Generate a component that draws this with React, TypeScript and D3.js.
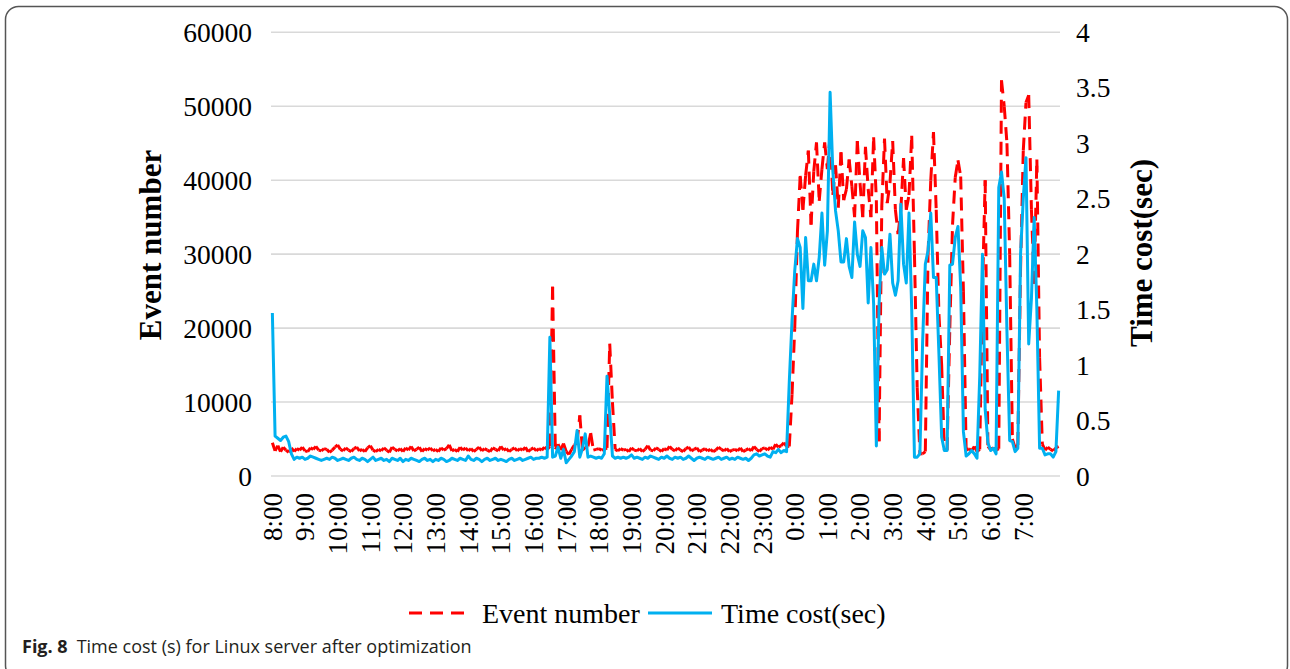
import React from "react";
import * as d3 from "d3";

const timeLabels = [
  "8:00", "9:00", "10:00", "11:00", "12:00", "13:00", "14:00", "15:00",
  "16:00", "17:00", "18:00", "19:00", "20:00", "21:00", "22:00", "23:00",
  "0:00", "1:00", "2:00", "3:00", "4:00", "5:00", "6:00", "7:00",
];

const leftTicks = [0, 10000, 20000, 30000, 40000, 50000, 60000];
const rightTicks = [0, 0.5, 1, 1.5, 2, 2.5, 3, 3.5, 4];

// Event number (primary axis), one sample per ~5 minutes from 8:00
const eventNumber = [
  4500, 3400, 4100, 3300, 3900, 3500, 3200, 3800, 3300, 3700,
  3500, 3900, 3400, 3300, 3800, 3600, 4000, 3500, 3400, 3700,
  3600, 3200, 3500, 3900, 4200, 3600, 3400, 3800, 3500, 3300,
  3700, 3900, 3400, 3600, 3300, 3800, 4100, 3500, 3300, 3600,
  3400, 3800, 3500, 3200, 3900, 3600, 3400, 3700, 3300, 3800,
  3500, 4000, 3400, 3600, 3900, 3300, 3700, 3500, 3800, 3400,
  3600, 3300, 3800, 3500, 3700, 4200, 3400, 3600, 3300, 3900,
  3500, 3800, 3400, 3700, 3300, 3600, 3900, 3400, 3700, 3500,
  3300, 3800, 3600, 3400, 4000, 3500, 3700, 3300, 3600, 3800,
  3400, 3700, 3500, 3900, 3300, 3600, 3800, 3400, 3700, 3500,
  3900, 3600, 4000, 25600, 3600, 4300, 3500, 4400, 3300, 2900,
  3600, 4200, 4500, 8200, 3500, 3900, 4000, 5800, 3500, 3600,
  3700, 3500, 3600, 3800, 17900, 10000, 3600, 3400, 3700, 3500,
  3600, 3300, 3800, 3500, 3400, 3700, 3300, 3600, 4100, 3500,
  3400, 3800, 3600, 3300, 3700, 3500, 4000, 3600, 3400, 3800,
  3500, 3300, 3700, 3900, 3400, 3600, 3800, 3300, 3500, 3700,
  3400, 3600, 3300, 3500, 3900, 3600, 3400, 3700, 3300, 3500,
  3600, 3400, 3800, 3300, 3500, 3700, 3400, 4000, 3600, 3300,
  3700, 3800, 3500, 3900, 3600, 4300, 3900, 4100, 4500, 4000,
  4000, 11000, 20000, 33000, 40600, 36000, 40600, 44000, 34000, 41200,
  45100, 37200, 41500, 45100, 41500, 46000, 38000, 42000, 36300, 43800,
  37300, 38800, 42800, 39200, 35000, 45300, 39600, 35000, 44500, 38800,
  35000, 45800, 37300, 4700, 36500, 45600, 36900, 39600, 45300, 36000,
  32700, 36000, 43000, 36000, 38000, 46000, 30000, 12000, 3000, 3000,
  3300, 30000, 40000, 46500, 36000, 21900, 15000, 3500, 3500, 20000,
  34000, 40400, 42700, 40500, 25000, 3500, 3700, 3400, 4000, 3300,
  3600, 25000, 40000, 4000, 3600, 3800, 3500, 3700, 53500, 50000,
  45000, 30000, 5000, 3800, 4200, 28000, 44000, 50500, 51500, 36000,
  26000, 42800, 16000, 4300, 3500, 3900, 3600, 3400, 3800, 4000,
];

// Time cost in seconds (secondary axis)
const timeCost = [
  1.47, 0.36, 0.34, 0.32, 0.35, 0.36, 0.31, 0.2, 0.15, 0.17,
  0.16, 0.17, 0.15, 0.16, 0.18, 0.17, 0.16, 0.15, 0.14, 0.15,
  0.16, 0.15, 0.17, 0.16, 0.14, 0.15, 0.16, 0.15, 0.14, 0.16,
  0.17, 0.15, 0.14, 0.16, 0.15, 0.13, 0.15, 0.17, 0.14, 0.15,
  0.16, 0.14, 0.15, 0.13, 0.16, 0.15, 0.14, 0.16, 0.13, 0.15,
  0.14, 0.16, 0.15, 0.14, 0.13, 0.15, 0.16, 0.14, 0.15, 0.13,
  0.15, 0.14, 0.16, 0.15, 0.13, 0.14, 0.16, 0.15, 0.14, 0.16,
  0.15, 0.14, 0.18, 0.15, 0.14, 0.16, 0.15, 0.13, 0.15, 0.16,
  0.14, 0.15, 0.16, 0.14, 0.15, 0.14, 0.13, 0.15, 0.16, 0.14,
  0.15, 0.16, 0.14, 0.15, 0.16, 0.17, 0.15, 0.16, 0.16, 0.17,
  0.16, 0.17, 1.25, 0.17, 0.18, 0.26, 0.16, 0.24, 0.12, 0.15,
  0.18, 0.22, 0.41, 0.17, 0.25, 0.38, 0.17, 0.18, 0.17, 0.16,
  0.17, 0.16, 0.2, 0.9, 0.55, 0.18, 0.16, 0.17, 0.16, 0.17,
  0.16, 0.17, 0.19, 0.16, 0.17, 0.16, 0.15, 0.17, 0.16, 0.18,
  0.17, 0.16, 0.15, 0.17, 0.16, 0.18, 0.16, 0.15, 0.17, 0.16,
  0.17, 0.15, 0.16, 0.18, 0.16, 0.14, 0.16, 0.17, 0.16, 0.15,
  0.17, 0.16, 0.15, 0.16, 0.17, 0.15, 0.16, 0.17, 0.15, 0.16,
  0.15, 0.17, 0.16, 0.15, 0.16, 0.14, 0.16, 0.19, 0.2, 0.18,
  0.19, 0.2, 0.18, 0.17, 0.22, 0.21, 0.24, 0.21, 0.23, 0.22,
  0.85, 1.4, 1.85, 2.14, 2.06, 1.51, 2.15, 1.76, 1.76, 1.91,
  1.76, 1.97, 2.37, 1.9, 2.21, 3.46, 2.75, 2.39, 2.21, 1.93,
  1.93, 2.14, 1.89, 1.79, 2.29, 2.0, 1.89, 2.21, 2.15, 1.56,
  2.06, 1.55, 0.27, 1.55, 2.06, 1.82, 1.86, 2.18, 1.74, 1.63,
  1.76, 2.45, 1.91, 1.74, 2.37, 1.5, 0.17, 0.17, 0.2, 1.2,
  1.91, 2.03, 2.37, 1.79, 1.79, 1.1, 0.35, 0.23, 0.23, 1.9,
  1.91, 2.15, 2.25, 1.7, 0.4, 0.18, 0.2, 0.23, 0.2, 0.16,
  0.9, 2.0, 0.6, 0.3, 0.23, 0.25, 0.2, 2.6, 2.74, 2.5,
  1.3, 0.32, 0.31, 0.22, 0.25, 2.0, 2.5, 2.87, 1.19, 1.6,
  2.33, 1.5, 0.25, 0.25, 0.19, 0.2, 0.2, 0.17, 0.22, 0.77,
];

const LABEL_EVERY = 12;
const SERIF = "'Liberation Serif', 'Times New Roman', serif";
const SANS = "'Open Sans', 'Noto Sans', sans-serif";
const RED = "#ff0000";
const BLUE = "#00b0f0";

export default function App() {
  const W = 1290;
  const H = 669;
  const plotLeft = 271;
  const plotRight = 1060;
  const yBottom = 476;
  const yTop = 32.3;

  const idx = d3.range(eventNumber.length);
  const x = d3.scalePoint<number>().domain(idx).range([plotLeft, plotRight]).padding(0.5);
  const yL = d3.scaleLinear().domain([0, 60000]).range([yBottom, yTop]);
  const yR = d3.scaleLinear().domain([0, 4]).range([yBottom, yTop]);

  const blueLine = d3
    .line<number>()
    .x((_, i) => x(i) as number)
    .y((d) => yR(d));

  return (
    <div style={{ position: "absolute", left: 0, top: 0 }}>
      <svg width={W} height={H} style={{ display: "block", background: "#fff" }}>
        <rect x={5.5} y={6.5} width={1282} height={672} rx={13} fill="#fff" stroke="#555" strokeWidth={1.5} />

        {/* gridlines */}
        {leftTicks.map((t) => (
          <line key={"g" + t} x1={plotLeft} x2={plotRight} y1={yL(t)} y2={yL(t)} stroke="#d9d9d9" strokeWidth={1.6} />
        ))}

        {/* left tick labels */}
        {leftTicks.map((t) => (
          <text key={"l" + t} x={252} y={yL(t)} dy="0.35em" textAnchor="end" fontFamily={SERIF} fontSize={27.5} fill="#000">
            {t}
          </text>
        ))}

        {/* right tick labels */}
        {rightTicks.map((t) => (
          <text key={"r" + t} x={1076} y={yR(t)} dy="0.35em" textAnchor="start" fontFamily={SERIF} fontSize={27.5} fill="#000">
            {t}
          </text>
        ))}

        {/* x tick labels */}
        {timeLabels.map((lab, k) => {
          const px = x(k * LABEL_EVERY) as number;
          return (
            <text
              key={"x" + lab}
              transform={`translate(${px},493) rotate(-90)`}
              dy="0.35em"
              textAnchor="end"
              fontFamily={SERIF}
              fontSize={27}
              fill="#000"
            >
              {lab}
            </text>
          );
        })}

        {/* axis titles */}
        <text transform="translate(150,245) rotate(-90)" dy="0.35em" textAnchor="middle" fontFamily={SERIF} fontWeight="bold" fontSize={31} fill="#000">
          Event number
        </text>
        <text transform="translate(1141,253) rotate(-90)" dy="0.35em" textAnchor="middle" fontFamily={SERIF} fontWeight="bold" fontSize={31} fill="#000">
          Time cost(sec)
        </text>

        {/* event number: dashed red, dash restarts at each segment */}
        <g stroke={RED} strokeWidth={3} strokeDasharray="13 8" fill="none">
          {eventNumber.slice(1).map((v, j) => (
            <line
              key={"e" + j}
              x1={x(j) as number}
              y1={yL(eventNumber[j])}
              x2={x(j + 1) as number}
              y2={yL(v)}
            />
          ))}
        </g>

        {/* time cost: solid blue */}
        <path d={blueLine(timeCost) || ""} fill="none" stroke={BLUE} strokeWidth={3} strokeLinejoin="round" />

        {/* legend */}
        <line x1={409} x2={465} y1={613} y2={613} stroke={RED} strokeWidth={3} strokeDasharray="13 8" />
        <text x={482} y={613} dy="0.35em" fontFamily={SERIF} fontSize={28} fill="#000">
          Event number
        </text>
        <line x1={648} x2={712} y1={613} y2={613} stroke={BLUE} strokeWidth={3} />
        <text x={721} y={613} dy="0.35em" fontFamily={SERIF} fontSize={28} fill="#000">
          Time cost(sec)
        </text>

        {/* caption */}
        <text x={22} y={653} fontFamily={SANS} fontSize={18} fill="#231f20">
          <tspan fontWeight="bold">Fig. 8</tspan>
          <tspan dx={9}>Time cost (s) for Linux server after optimization</tspan>
        </text>
      </svg>
    </div>
  );
}
